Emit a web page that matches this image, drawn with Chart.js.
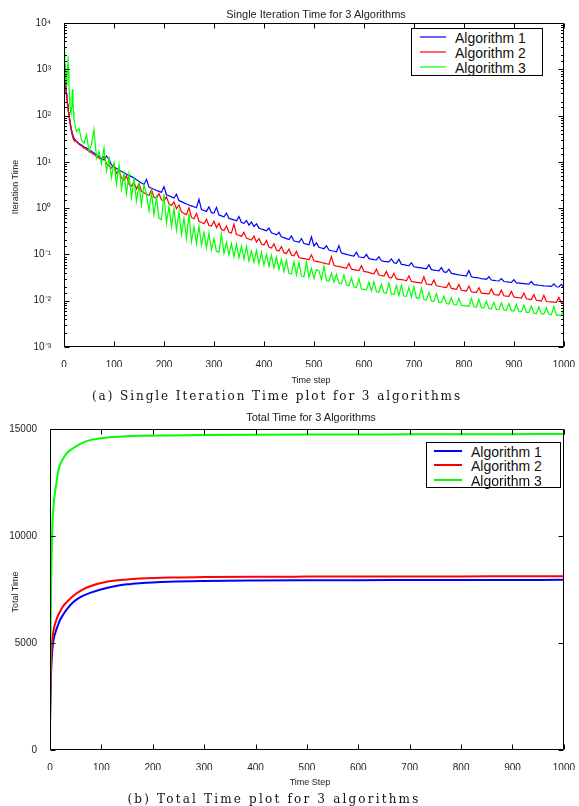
<!DOCTYPE html>
<html>
<head>
<meta charset="utf-8">
<script src="https://cdn.jsdelivr.net/npm/chart.js@4/dist/chart.umd.min.js"></script>
<style>
  html,body{margin:0;padding:0;background:#fff;}
  body{width:579px;height:806px;position:relative;overflow:hidden;font-family:"Liberation Sans",Arial,sans-serif;color:#222;}
  canvas{position:absolute;left:0;}
  .t{position:absolute;white-space:nowrap;transform:translate(-50%,-50%);z-index:2;}
  .rot{transform:translate(-50%,-50%) rotate(-90deg);}
  .cap{font-family:"DejaVu Serif","Liberation Serif",serif;font-size:12px;color:#111;}
  .legend{position:absolute;border:1px solid #000;background:#fff;z-index:3;box-sizing:border-box;}
  .lg-line{position:absolute;}
  .lg-txt{position:absolute;font-size:14px;color:#111;transform:translateY(-50%);white-space:nowrap;line-height:1;}
</style>
</head>
<body>
<canvas id="c1" width="579" height="392" style="top:0"></canvas>
<canvas id="c2" width="579" height="406" style="top:400px"></canvas>

<div class="t" style="left:316px;top:14px;font-size:11px;">Single Iteration Time for 3 Algorithms</div>
<div class="t" style="left:311px;top:380px;font-size:9px;">Time step</div>
<div class="t rot" style="left:15px;top:187px;font-size:9px;">Iteration Time</div>
<div class="t cap" id="capA" style="left:277px;top:396px;">(a) Single Iteration Time plot for 3 algorithms</div>

<div class="t" style="left:311px;top:417px;font-size:11px;">Total Time for 3 Algorithms</div>
<div class="t" style="left:310px;top:782px;font-size:9px;">Time Step</div>
<div class="t rot" style="left:15px;top:592px;font-size:9px;">Total Time</div>
<div class="t cap" id="capB" style="left:274px;top:799px;">(b) Total Time plot for 3 algorithms</div>

<div id="leg1" class="legend" style="left:411px;top:28px;width:132px;height:48px;"></div>
<div id="leg2" class="legend" style="left:426px;top:442px;width:135px;height:46px;"></div>

<script>
// ---------- data ----------
const seriesNames = ['Algorithm 1', 'Algorithm 2', 'Algorithm 3'];
const seriesColors = ['#0000ff', '#ff0000', '#00ff00'];

const iterSteps = [0,1,2,3,4,5,6,7,8,9,10,11,12,13,14,15,16,17,18,19,20,
25,30,35,40,45,50,55,60,65,70,75,80,85,90,95,100,105,110,115,120,
125,130,135,140,145,150,155,160,165,170,175,180,185,190,195,200,205,210,215,220,
225,230,235,240,245,250,255,260,265,270,275,280,285,290,295,300,305,310,315,320,
325,330,335,340,345,350,355,360,365,370,375,380,385,390,395,400,405,410,415,420,
425,430,435,440,445,450,455,460,465,470,475,480,485,490,495,500,505,510,515,520,
525,530,535,540,545,550,555,560,565,570,575,580,585,590,595,600,605,610,615,620,
625,630,635,640,645,650,655,660,665,670,675,680,685,690,695,700,705,710,715,720,
725,730,735,740,745,750,755,760,765,770,775,780,785,790,795,800,805,810,815,820,
825,830,835,840,845,850,855,860,865,870,875,880,885,890,895,900,905,910,915,920,
925,930,935,940,945,950,955,960,965,970,975,980,985,990,995,1000];

const iterAlg1 = [1300,900,600,450,350,300,230,180,150,120,100,85,72,62,55,48,43,39,36,34,32,
28,25,23,21,20,18,17,15.5,14,13,
12,11,13.4,11.4,8.6,7.8,7.2,6.7,6.2,5.8,
5.4,5.1,4.8,4.5,4.1,3.8,3.5,3.25,4.2,2.85,
2.7,2.55,2.4,2.3,2.2,2.9,1.95,1.85,1.75,1.65,
2.0,1.45,1.38,1.3,1.23,1.17,1.12,1.07,1.02,1.55,
0.93,0.89,0.85,1.07,0.8,0.78,1.04,0.71,0.68,0.65,
0.78,0.6,0.58,0.56,0.53,0.66,0.49,0.47,0.54,0.43,
0.5,0.4,0.46,0.37,0.355,0.34,0.325,0.37,0.295,0.28,
0.265,0.3,0.24,0.23,0.22,0.21,0.25,0.195,0.19,0.183,
0.22,0.172,0.167,0.162,0.24,0.153,0.178,0.143,0.138,0.133,
0.154,0.124,0.12,0.117,0.114,0.155,0.107,0.104,0.1,0.097,
0.094,0.092,0.112,0.088,0.087,0.085,0.1,0.081,0.079,0.077,
0.076,0.089,0.073,0.071,0.07,0.069,0.08,0.066,0.064,0.079,
0.061,0.06,0.058,0.057,0.066,0.054,0.053,0.052,0.051,0.05,
0.049,0.06,0.047,0.046,0.045,0.044,0.052,0.042,0.041,0.048,
0.039,0.038,0.037,0.036,0.0355,0.035,0.034,0.045,0.033,0.032,
0.0315,0.031,0.03,0.0295,0.029,0.033,0.028,0.0275,0.027,0.0267,
0.03,0.026,0.0257,0.0253,0.025,0.0285,0.0243,0.024,0.0237,0.0234,
0.0231,0.0228,0.026,0.0222,0.0219,0.0216,0.0213,0.021,0.0208,0.0206,
0.0204,0.0232,0.02,0.0198,0.0225,0.0195];

const iterAlg2 = [1300,850,560,420,330,270,210,170,140,115,95,80,68,58,50,45,40,37,34,32,30,
27,24,22,20,18.5,17,15.5,14.5,13,12,
11,13,9,8.2,7.3,8.6,5.6,6.5,4.5,4.0,
5.0,3.3,3.0,3.6,2.6,3.4,2.3,2.15,2.0,1.9,
2.5,1.72,1.65,2.05,1.52,1.45,1.75,1.25,1.15,1.37,
0.97,1.17,0.83,0.77,0.72,1.02,0.63,0.59,0.77,0.52,
0.49,0.46,0.57,0.42,0.41,0.52,0.38,0.47,0.345,0.33,
0.41,0.3,0.29,0.45,0.27,0.26,0.245,0.3,0.225,0.215,
0.205,0.25,0.185,0.22,0.168,0.16,0.2,0.145,0.138,0.17,
0.125,0.119,0.148,0.109,0.105,0.131,0.097,0.093,0.116,0.086,
0.083,0.081,0.079,0.077,0.098,0.073,0.071,0.069,0.067,0.065,
0.063,0.061,0.09,0.058,0.056,0.055,0.053,0.052,0.05,0.064,
0.048,0.047,0.046,0.045,0.057,0.043,0.042,0.041,0.039,0.038,
0.048,0.036,0.035,0.034,0.043,0.032,0.031,0.039,0.0295,0.029,
0.0285,0.028,0.027,0.0345,0.026,0.0255,0.025,0.0245,0.024,0.033,
0.023,0.0225,0.022,0.028,0.021,0.0205,0.02,0.0196,0.0192,0.0244,
0.0184,0.018,0.0176,0.0224,0.0168,0.0165,0.0162,0.0207,0.0156,0.0153,
0.015,0.0192,0.0146,0.0144,0.0142,0.014,0.018,0.0136,0.0134,0.0132,
0.0169,0.0128,0.0126,0.0124,0.0159,0.012,0.0118,0.0116,0.0114,0.0146,
0.011,0.0108,0.0106,0.0135,0.0102,0.01,0.0098,0.0131,0.0096,0.0095,
0.0094,0.0093,0.0092,0.0118,0.009,0.0089];

const iterAlg3 = [3000,2500,1400,900,600,450,700,1200,1900,900,450,250,160,120,110,150,250,370,200,120,80,
45,53,30,25,38,17,24,50,12,17,
9,20,6.3,11.7,4.6,9.5,3.3,8.7,2.6,5.8,
2.05,5.5,1.7,4.3,1.42,3.25,1.18,3.2,1.95,0.88,
2.25,0.73,1.7,0.61,0.56,2.0,0.48,1.1,0.4,1.0,
0.335,0.84,0.27,0.61,0.22,0.76,0.19,0.4,0.17,0.41,
0.16,0.3,0.14,0.29,0.126,0.22,0.116,0.112,0.27,0.105,
0.18,0.098,0.17,0.09,0.17,0.085,0.15,0.079,0.15,0.073,
0.12,0.068,0.12,0.063,0.11,0.059,0.1,0.055,0.095,0.051,
0.088,0.047,0.077,0.043,0.074,0.039,0.038,0.07,0.036,0.067,
0.034,0.033,0.068,0.032,0.05,0.03,0.047,0.044,0.0285,0.056,
0.0272,0.0265,0.039,0.0252,0.037,0.024,0.0232,0.036,0.0218,0.0211,
0.031,0.0198,0.0192,0.03,0.018,0.0176,0.0172,0.025,0.0164,0.0256,
0.0157,0.0154,0.0227,0.0148,0.0145,0.024,0.0139,0.0136,0.0213,0.013,
0.0218,0.0126,0.0124,0.0195,0.012,0.02,0.0115,0.0112,0.0185,0.0106,
0.0103,0.0152,0.0099,0.0097,0.0143,0.0093,0.0091,0.0125,0.0087,0.0085,
0.0116,0.0082,0.0081,0.0112,0.0079,0.0078,0.0077,0.0076,0.0113,0.0074,
0.0073,0.0108,0.0071,0.007,0.0097,0.0068,0.0067,0.0092,0.0065,0.0064,
0.009,0.0063,0.0062,0.0087,0.0061,0.006,0.0083,0.0059,0.0058,0.008,
0.0056,0.0056,0.0077,0.0054,0.0053,0.0074,0.0052,0.0052,0.0071,0.0051,
0.005,0.0075,0.0049,0.0049,0.0048,0.0067];

const totalSteps = [0,1,2,3,4,5,6,7,8,10,12,15,19,25,32,45,60,78,110,150,175,232,300,400,500,600,700,800,900,1000];
const totalAlg1 = [1290,2600,3500,4100,4500,4800,5000,5150,5280,5450,5600,5800,6050,6300,6550,6900,7150,7340,7570,7740,7795,7860,7895,7918,7930,7937,7942,7946,7948,7950];
const totalAlg2 = [1290,3000,4000,4600,5000,5250,5450,5600,5720,5900,6050,6250,6450,6700,6900,7200,7450,7650,7860,7970,8010,8060,8080,8095,8103,8108,8111,8113,8115,8116];
const totalAlg3 = [1290,5000,7500,9000,10000,10700,11100,11450,11700,12100,12400,12900,13300,13600,13850,14100,14320,14480,14600,14660,14680,14700,14715,14730,14740,14745,14750,14755,14760,14765];

const logTickLabels = {'10000':'10⁴','1000':'10³','100':'10²','10':'10¹','1':'10⁰','0.1':'10⁻¹','0.01':'10⁻²','0.001':'10⁻³'};
const xTickStep = 100;
const totalTickStep = 5000;

// ---------- helpers ----------
function pts(xs, ys){ return xs.map((x,i)=>({x:x, y:ys[i]})); }

const boxTicks = {
  id:'boxTicks',
  afterDraw(chart, args, opts){
    const {ctx, chartArea:a, scales} = chart;
    const L = Math.round(a.left)+0.5, R = Math.round(a.right)-0.5, T = Math.round(a.top)+0.5, B = Math.round(a.bottom)-0.5;
    ctx.save();
    ctx.strokeStyle = '#000';
    ctx.lineWidth = 1;
    ctx.beginPath();
    ctx.rect(L, T, R-L, B-T);
    scales.x.ticks.forEach(t=>{
      const px = Math.round(scales.x.getPixelForValue(t.value))+0.5;
      ctx.moveTo(px, B); ctx.lineTo(px, B-opts.major);
      ctx.moveTo(px, T); ctx.lineTo(px, T+opts.major);
    });
    scales.y.ticks.forEach(t=>{
      const py = Math.round(scales.y.getPixelForValue(t.value))+0.5;
      const len = (opts.log && !t.major) ? opts.minor : opts.major;
      ctx.moveTo(L, py); ctx.lineTo(L+len, py);
      ctx.moveTo(R, py); ctx.lineTo(R-len, py);
    });
    ctx.stroke();
    ctx.restore();
  }
};

const tickFont = {family:'"Liberation Sans", Arial, sans-serif', size:10};
const plainNum = (v)=> String(v);

// ---------- chart 1 ----------
new Chart(document.getElementById('c1'), {
  type:'line',
  data:{
    datasets:[iterAlg1, iterAlg2, iterAlg3].map((d,i)=>({
      label: seriesNames[i],
      data: pts(iterSteps, d),
      borderColor: seriesColors[i],
      borderWidth: 1.2,
      pointRadius: 0,
      tension: 0,
      order: 3-i
    }))
  },
  options:{
    responsive:false,
    animation:false,
    layout:{padding:{left:0, top:23, right:14, bottom:25}},
    plugins:{legend:{display:false}, tooltip:{enabled:false}, title:{display:false},
      boxTicks:{major:5, minor:2.5, log:true}},
    scales:{
      x:{type:'linear', min:0, max:1000,
        ticks:{stepSize:xTickStep, color:'#222', font:tickFont, padding:4, maxRotation:0, autoSkip:false, callback:plainNum},
        grid:{display:false}, border:{display:false},
        afterFit(s){ s.height = 20; }},
      y:{type:'logarithmic', min:0.001, max:10000,
        ticks:{color:'#222', font:tickFont, padding:5, autoSkip:false,
          callback:(v)=> logTickLabels[String(v)] || ''},
        grid:{display:false}, border:{display:false},
        afterFit(s){ s.width = 64; }}
    }
  },
  plugins:[boxTicks]
});

// ---------- chart 2 ----------
new Chart(document.getElementById('c2'), {
  type:'line',
  data:{
    datasets:[totalAlg1, totalAlg2, totalAlg3].map((d,i)=>({
      label: seriesNames[i],
      data: pts(totalSteps, d),
      borderColor: seriesColors[i],
      borderWidth: 2,
      pointRadius: 0,
      cubicInterpolationMode:'monotone',
      order: 3-i
    }))
  },
  options:{
    responsive:false,
    animation:false,
    layout:{padding:{left:0, top:29, right:15, bottom:36}},
    plugins:{legend:{display:false}, tooltip:{enabled:false}, title:{display:false},
      boxTicks:{major:5, minor:5, log:false}},
    scales:{
      x:{type:'linear', min:0, max:1000,
        ticks:{stepSize:xTickStep, color:'#222', font:tickFont, padding:4, maxRotation:0, autoSkip:false, callback:plainNum},
        grid:{display:false}, border:{display:false},
        afterFit(s){ s.height = 20; }},
      y:{type:'linear', min:0, max:15000,
        ticks:{stepSize:totalTickStep, color:'#222', font:tickFont, padding:5, callback:plainNum},
        grid:{display:false}, border:{display:false},
        afterFit(s){ s.width = 50; }}
    }
  },
  plugins:[boxTicks]
});

// ---------- legends ----------
function buildLegend(id, rows, lineX0, lineX1, textX, lw, alpha){
  const el = document.getElementById(id);
  const box = el.getBoundingClientRect();
  seriesNames.forEach((n,i)=>{
    const y = Math.round(rows[i] - box.top - 1);
    const ln = document.createElement('div');
    ln.className='lg-line';
    ln.style.cssText = `left:${lineX0-box.left-1}px;top:${y - Math.floor(lw/2)}px;width:${lineX1-lineX0}px;height:${lw}px;background:${seriesColors[i]};opacity:${alpha};`;
    el.appendChild(ln);
    const tx = document.createElement('div');
    tx.className='lg-txt';
    tx.style.left = (textX-box.left-1)+'px';
    tx.style.top = (y+0.5)+'px';
    tx.textContent = n;
    el.appendChild(tx);
  });
}
buildLegend('leg1', [37,52,67], 420, 446, 455, 2, 0.6);
buildLegend('leg2', [451,465,480], 434, 462, 471, 2, 1);

// ---------- captions: stretch letter spacing to the reference width ----------
function fitWidth(id, target){
  const el = document.getElementById(id);
  const w = el.getBoundingClientRect().width;
  const n = el.textContent.length;
  el.style.letterSpacing = ((target - w)/n).toFixed(2)+'px';
}
fitWidth('capA', 370);
fitWidth('capB', 293);
</script>
</body>
</html>
